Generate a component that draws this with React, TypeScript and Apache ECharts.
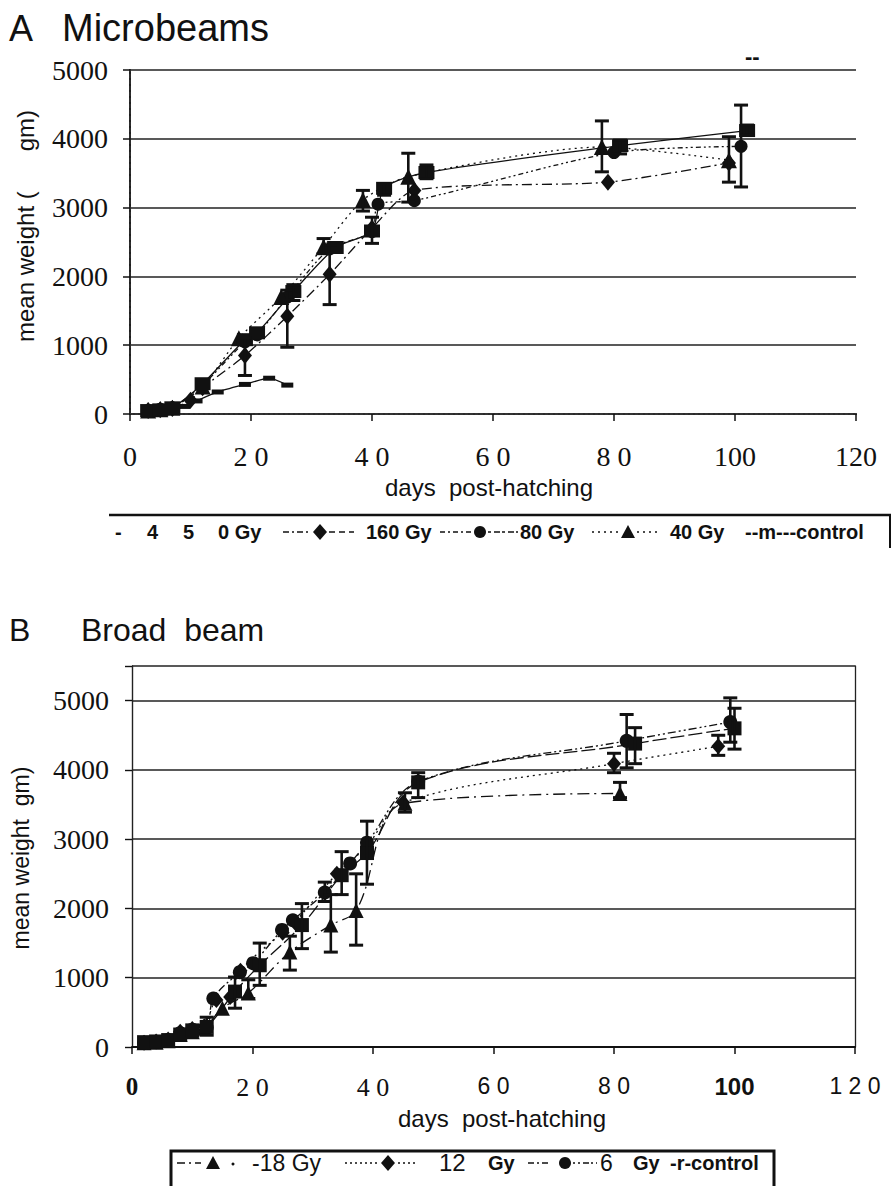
import React, { useEffect, useRef } from "react";
import * as echarts from "echarts";

// ---------- Panel A (Microbeams) data: [day, mean weight gm] ----------
const a450: number[][] = [[3, 40], [5, 50], [7, 60], [9, 110], [11, 190], [14.5, 320], [19, 430], [23, 520], [26, 420]];
const a160: number[][] = [[3, 50], [5, 60], [7, 80], [10, 200], [12, 380], [19, 850], [26, 1420], [33, 2030], [40, 2700], [47, 3250], [79, 3370], [99, 3650]];
const a80: number[][] = [[3, 50], [5, 70], [7, 90], [12, 420], [19, 1050], [21, 1150], [26, 1700], [33, 2400], [40, 2650], [41, 3050], [47, 3100], [80, 3800], [101, 3890]];
const a40: number[][] = [[3, 50], [5, 70], [7, 90], [12, 400], [18, 1100], [25, 1700], [32, 2430], [38.5, 3110], [46, 3450], [78, 3880], [99, 3690]];
const aControl: number[][] = [[3, 50], [5, 60], [7, 90], [12, 440], [19, 1080], [21, 1180], [27, 1780], [34, 2420], [40, 2660], [42, 3280], [49, 3510], [81, 3900], [102, 4120]];
// error bars: [day, low, high]
const aErr: number[][] = [
  [19, 560, 1100], [26, 970, 1800], [33, 1590, 2450],
  [32, 2330, 2550], [38.5, 2950, 3250], [46, 3080, 3790], [78, 3520, 4260], [99, 3370, 4030],
  [101, 3300, 4490],
  [27, 1650, 1880], [40, 2480, 2860], [42, 3180, 3340], [49, 3420, 3620], [81, 3780, 3980], [102, 4050, 4200],
];

// ---------- Panel B (Broad beam) data ----------
const b18: number[][] = [[2, 60], [4, 70], [6, 90], [8, 180], [10, 220], [12, 270], [15, 560], [19.3, 780], [26.2, 1370], [33, 1760], [37.2, 1970], [45.3, 3520], [81, 3660]];
const b12: number[][] = [[2, 60], [4, 80], [6, 110], [8, 220], [10, 260], [12, 300], [14, 680], [16.3, 720], [18, 1100], [25, 1650], [27, 1800], [34, 2500], [39, 2900], [45, 3530], [80, 4090], [97.3, 4340]];
const b6: number[][] = [[2, 60], [4, 75], [6, 100], [8, 200], [10, 250], [12.4, 280], [13.5, 700], [17.9, 1080], [20.1, 1210], [24.9, 1690], [26.7, 1830], [32, 2230], [36.2, 2650], [39, 2950], [47.5, 3830], [82.1, 4420], [99.3, 4690]];
const bControl: number[][] = [[2, 70], [4, 80], [6, 100], [8, 180], [10, 240], [12.4, 290], [17.1, 800], [21.2, 1180], [28.2, 1760], [34.8, 2480], [39, 2800], [47.5, 3820], [83.5, 4380], [100, 4600]];
const bErr: number[][] = [
  [12.4, 170, 430], [17.1, 560, 1010], [19.3, 700, 970], [21.2, 890, 1500], [26.2, 1110, 1600], [28.2, 1420, 2070],
  [32, 2100, 2380], [33, 1370, 2200], [34.8, 2200, 2820], [37.2, 1470, 2500], [39, 2350, 3260],
  [45.3, 3390, 3670], [47.5, 3600, 3960],
  [80, 3960, 4240], [81, 3600, 3820], [82.1, 4030, 4800], [83.5, 4090, 4610],
  [97.3, 4210, 4500], [99.3, 4400, 5040], [100, 4300, 4890],
];

// ---------- tick labels ----------
const xTicksA = ["0", "2 0", "4 0", "6 0", "8 0", "100", "120"];
const xTicksB = ["{bs|0}", "{s|2 0}", "{s|4 0}", "{n|6 0}", "{n|8 0}", "{bn|100}", "{n|1 2 0}"];
const yTicksA = ["0", "1000", "2000", "3000", "4000", "5000"];
const yTicksB = ["0", "1000", "2000", "3000", "4000", "5000", ""];

const SERIF = "'Liberation Serif', 'DejaVu Serif', serif";
const SANS = "'Liberation Sans', Arial, sans-serif";
const INK = "#111";

function errorSeries(data: number[][], xi: number, yi: number) {
  return {
    type: "custom",
    xAxisIndex: xi,
    yAxisIndex: yi,
    data,
    encode: { x: 0, y: [1, 2] },
    z: 5,
    silent: true,
    renderItem: (_p: any, api: any) => {
      const x = api.value(0);
      const p1 = api.coord([x, api.value(1)]);
      const p2 = api.coord([x, api.value(2)]);
      const w = 7;
      const st = { stroke: INK, lineWidth: 2.6 };
      return {
        type: "group",
        children: [
          { type: "line", shape: { x1: p1[0], y1: p1[1], x2: p2[0], y2: p2[1] }, style: st },
          { type: "line", shape: { x1: p1[0] - w, y1: p1[1], x2: p1[0] + w, y2: p1[1] }, style: { stroke: INK, lineWidth: 3 } },
          { type: "line", shape: { x1: p2[0] - w, y1: p2[1], x2: p2[0] + w, y2: p2[1] }, style: { stroke: INK, lineWidth: 3 } },
        ],
      };
    },
  };
}

function lineSeries(name: string, data: number[][], xi: number, yi: number, symbol: string, size: any, dash: any, smooth = 0.25) {
  return {
    name,
    type: "line",
    xAxisIndex: xi,
    yAxisIndex: yi,
    data,
    symbol,
    symbolSize: size,
    smooth,
    showAllSymbol: true,
    z: 4,
    itemStyle: { color: INK, borderWidth: 0 },
    lineStyle: { color: INK, width: 1.3, type: dash },
  };
}

function txt(text: string, x: number, y: number, size: number, opts: any = {}) {
  return {
    type: "text",
    x,
    y,
    rotation: opts.rotation || 0,
    style: {
      text,
      fill: INK,
      fontSize: size,
      fontFamily: opts.family || SANS,
      fontWeight: opts.weight || "normal",
      align: opts.align || "left",
      verticalAlign: "middle",
      textAlign: opts.align || "left",
      textVerticalAlign: "middle",
    },
  };
}
function seg(x1: number, x2: number, y: number, dash: any) {
  return { type: "line", shape: { x1, y1: y, x2, y2: y }, style: { stroke: INK, lineWidth: 1.4, lineDash: dash } };
}
function tri(cx: number, cy: number) {
  return { type: "polygon", shape: { points: [[cx, cy - 7], [cx - 7, cy + 6], [cx + 7, cy + 6]] }, style: { fill: INK } };
}
function dia(cx: number, cy: number) {
  return { type: "polygon", shape: { points: [[cx, cy - 8], [cx + 7, cy], [cx, cy + 8], [cx - 7, cy]] }, style: { fill: INK } };
}
function dot(cx: number, cy: number) {
  return { type: "circle", shape: { cx, cy, r: 6 }, style: { fill: INK } };
}

function baseX(gridIndex: number, labels: string[], fontSize: number, margin: number, rich?: any) {
  return {
    type: "value",
    gridIndex,
    min: 0,
    max: 120,
    interval: 20,
    position: "bottom",
    axisLine: { show: true, onZero: false, lineStyle: { color: INK, width: 1.8 } },
    axisTick: { show: true, inside: false, length: 7, lineStyle: { color: INK, width: 1.5 } },
    splitLine: { show: false },
    axisLabel: {
      margin,
      color: INK,
      fontFamily: SERIF,
      fontSize,
      formatter: (v: number) => labels[Math.round(v / 20)] ?? "",
      rich,
    },
  };
}

export default function App() {
  const ref = useRef<HTMLDivElement>(null);
  useEffect(() => {
    if (!ref.current) return;
    const chart = echarts.init(ref.current, null, { renderer: "svg" });
    const yA0 = 414, yAtop = 70;
    const yB0 = 1047, yBtop = 666;
    const option: any = {
      animation: false,
      backgroundColor: "#fff",
      grid: [
        { left: 130, top: yAtop, width: 726, height: yA0 - yAtop, containLabel: false },
        { left: 132, top: yBtop, width: 723, height: yB0 - yBtop, containLabel: false },
      ],
      xAxis: [
        baseX(0, xTicksA, 28, 28),
        {
          type: "value", gridIndex: 0, min: 0, max: 120, position: "top",
          axisLine: { show: true, lineStyle: { color: "#333", width: 2, type: [3, 2] } },
          axisTick: { show: false }, axisLabel: { show: false }, splitLine: { show: false },
        },
        baseX(1, xTicksB, 24, 27, {
          bs: { fontFamily: SERIF, fontWeight: "bold", fontSize: 25, color: INK },
          s: { fontFamily: SERIF, fontSize: 26, color: INK },
          n: { fontFamily: SANS, fontSize: 23, color: INK },
          bn: { fontFamily: SANS, fontWeight: "bold", fontSize: 24, color: INK },
        }),
      ],
      yAxis: [
        {
          type: "value", gridIndex: 0, min: 0, max: 5000, interval: 1000,
          axisLine: { show: true, lineStyle: { color: INK, width: 2 } },
          axisTick: { show: true, length: 7, lineStyle: { color: INK, width: 1.5 } },
          splitLine: { show: true, showMaxLine: true, lineStyle: { color: "#222", width: 1.6 } },
          axisLabel: {
            margin: 22, color: INK, fontFamily: SERIF, fontSize: 28,
            formatter: (v: number) => yTicksA[Math.round(v / 1000)] ?? "",
          },
        },
        {
          type: "value", gridIndex: 0, min: 0, max: 5000, position: "right",
          axisLine: { show: true, lineStyle: { color: "#333", width: 1.6, type: [4, 2] } },
          axisTick: { show: false }, axisLabel: { show: false }, splitLine: { show: false },
        },
        {
          type: "value", gridIndex: 1, min: 0, max: 5500, interval: 1000,
          axisLine: { show: true, lineStyle: { color: "#222", width: 1.4 } },
          axisTick: { show: true, length: 7, lineStyle: { color: INK, width: 1.4 } },
          splitLine: { show: true, lineStyle: { color: "#222", width: 1.5 } },
          axisLabel: {
            margin: 23, color: INK, fontFamily: SERIF, fontSize: 28,
            formatter: (v: number) => (v > 5000 ? "" : yTicksB[Math.round(v / 1000)] ?? ""),
          },
        },
        {
          type: "value", gridIndex: 1, min: 0, max: 5500, position: "right",
          axisLine: { show: true, lineStyle: { color: "#222", width: 1.3 } },
          axisTick: { show: false }, axisLabel: { show: false }, splitLine: { show: false },
        },
      ],
      series: [
        errorSeries(aErr, 0, 0),
        lineSeries("450 Gy", a450, 0, 0, "rect", [12, 5], "solid", 0.2),
        lineSeries("160 Gy", a160, 0, 0, "diamond", [14, 17], [10, 4, 2, 4]),
        lineSeries("80 Gy", a80, 0, 0, "circle", 13, [5, 3, 2, 3, 2, 3]),
        lineSeries("40 Gy", a40, 0, 0, "triangle", 16, [2, 4]),
        lineSeries("control", aControl, 0, 0, "rect", [16, 13], "solid"),
        errorSeries(bErr, 2, 2),
        lineSeries("18 Gy", b18, 2, 2, "triangle", 15, [12, 5, 2, 5], 0.35),
        lineSeries("12 Gy", b12, 2, 2, "diamond", [14, 16], [2, 4], 0.35),
        lineSeries("6 Gy", b6, 2, 2, "circle", 14, [8, 3, 2, 3, 2, 3], 0.35),
        lineSeries("control", bControl, 2, 2, "rect", 14, [14, 4], 0.35),
      ],
      graphic: [
        // titles
        txt("A", 9, 28, 36),
        txt("Microbeams", 62, 28, 38),
        txt("B", 9, 630, 32),
        txt("Broad  beam", 81, 630, 32),
        txt("--", 745, 56, 22, { weight: "bold" }),
        // axis names
        txt("mean weight (      gm)", 25, 226, 24, { rotation: Math.PI / 2, align: "center" }),
        txt("days  post-hatching", 489, 487, 24, { align: "center" }),
        txt("mean weight  gm)", 21, 858, 23, { rotation: Math.PI / 2, align: "center" }),
        txt("days  post-hatching", 502, 1118, 24, { align: "center" }),
        // legend A
        { type: "line", shape: { x1: 109, y1: 515, x2: 891, y2: 515 }, style: { stroke: INK, lineWidth: 2.6 } },
        { type: "line", shape: { x1: 890, y1: 515, x2: 890, y2: 548 }, style: { stroke: INK, lineWidth: 2 } },
        txt("-", 115, 532, 20, { weight: "bold" }),
        txt("4", 147, 532, 20, { weight: "bold" }),
        txt("5", 183, 532, 20, { weight: "bold" }),
        txt("0 Gy", 218, 532, 20, { weight: "bold" }),
        seg(283, 308, 532, [6, 3, 2, 3]),
        dia(320, 532),
        seg(329, 354, 532, [6, 4]),
        txt("160 Gy", 366, 532, 20, { weight: "bold" }),
        seg(440, 473, 532, [5, 3, 2, 3]),
        dot(480, 532),
        seg(488, 518, 532, [3, 3, 6, 2]),
        txt("80 Gy", 520, 532, 20, { weight: "bold" }),
        seg(592, 620, 532, [2, 4]),
        tri(628, 532),
        seg(637, 658, 532, [2, 4]),
        txt("40 Gy", 670, 532, 20, { weight: "bold" }),
        txt("--m---control", 745, 532, 20, { weight: "bold" }),
        // legend B
        { type: "rect", shape: { x: 171, y: 1151, width: 603, height: 44 }, style: { fill: "none", stroke: INK, lineWidth: 3 } },
        seg(177, 201, 1163, [8, 4, 2, 4]),
        tri(213, 1163),
        { type: "circle", shape: { cx: 233, cy: 1164, r: 1.5 }, style: { fill: INK } },
        txt("-18 Gy", 252, 1163, 23),
        seg(345, 380, 1163, [2, 3]),
        dia(388, 1163),
        seg(398, 418, 1163, [2, 3]),
        txt("12", 439, 1162, 24),
        txt("Gy", 488, 1163, 20, { weight: "bold" }),
        seg(528, 551, 1163, [6, 3, 2, 3]),
        dot(565, 1163),
        seg(573, 597, 1163, [2, 3, 2, 3, 6, 2]),
        txt("6", 600, 1163, 23),
        txt("Gy", 633, 1163, 20, { weight: "bold" }),
        txt("-r-control", 670, 1163, 20, { weight: "bold" }),
      ],
    };
    chart.setOption(option);
    return () => chart.dispose();
  }, []);
  return (
    <div
      ref={ref}
      style={{ position: "fixed", left: 0, top: 0, width: 894, height: 1186, background: "#fff" }}
    />
  );
}
